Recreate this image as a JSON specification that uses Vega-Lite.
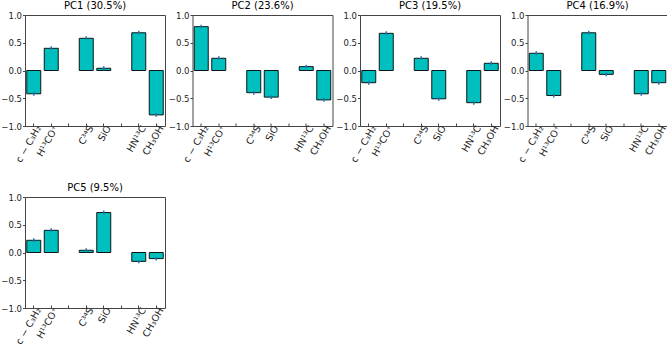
{
  "$schema": "https://vega.github.io/schema/vega-lite/v6.json",
  "padding": {"left": 0, "top": 0, "right": 0, "bottom": 2},
  "config": {
    "font": "DejaVu Sans",
    "view": {"stroke": "#444444", "strokeWidth": 1},
    "axis": {"grid": false, "domain": false, "labelFont": "DejaVu Sans", "labelFontSize": 8.5, "labelColor": "#222222", "tickColor": "#444444"}
  },
  "data": {"values": [
    {"pc": "PC1 (30.5%)", "mol": "c − C₃H₂", "v": -0.42, "lo": -0.455, "hi": -0.385},
    {"pc": "PC1 (30.5%)", "mol": "H¹³CO⁺", "v": 0.40, "lo": 0.365, "hi": 0.435},
    {"pc": "PC1 (30.5%)", "mol": "C³⁴S", "v": 0.58, "lo": 0.545, "hi": 0.615},
    {"pc": "PC1 (30.5%)", "mol": "SiO", "v": 0.04, "lo": 0.005, "hi": 0.075},
    {"pc": "PC1 (30.5%)", "mol": "HN¹³C", "v": 0.68, "lo": 0.645, "hi": 0.715},
    {"pc": "PC1 (30.5%)", "mol": "CH₃OH", "v": -0.80, "lo": -0.835, "hi": -0.765},
    {"pc": "PC2 (23.6%)", "mol": "c − C₃H₂", "v": 0.79, "lo": 0.755, "hi": 0.825},
    {"pc": "PC2 (23.6%)", "mol": "H¹³CO⁺", "v": 0.22, "lo": 0.185, "hi": 0.255},
    {"pc": "PC2 (23.6%)", "mol": "C³⁴S", "v": -0.40, "lo": -0.435, "hi": -0.365},
    {"pc": "PC2 (23.6%)", "mol": "SiO", "v": -0.48, "lo": -0.515, "hi": -0.445},
    {"pc": "PC2 (23.6%)", "mol": "HN¹³C", "v": 0.07, "lo": 0.035, "hi": 0.105},
    {"pc": "PC2 (23.6%)", "mol": "CH₃OH", "v": -0.53, "lo": -0.565, "hi": -0.495},
    {"pc": "PC3 (19.5%)", "mol": "c − C₃H₂", "v": -0.22, "lo": -0.255, "hi": -0.185},
    {"pc": "PC3 (19.5%)", "mol": "H¹³CO⁺", "v": 0.67, "lo": 0.635, "hi": 0.705},
    {"pc": "PC3 (19.5%)", "mol": "C³⁴S", "v": 0.22, "lo": 0.185, "hi": 0.255},
    {"pc": "PC3 (19.5%)", "mol": "SiO", "v": -0.51, "lo": -0.545, "hi": -0.475},
    {"pc": "PC3 (19.5%)", "mol": "HN¹³C", "v": -0.58, "lo": -0.615, "hi": -0.545},
    {"pc": "PC3 (19.5%)", "mol": "CH₃OH", "v": 0.13, "lo": 0.095, "hi": 0.165},
    {"pc": "PC4 (16.9%)", "mol": "c − C₃H₂", "v": 0.31, "lo": 0.275, "hi": 0.345},
    {"pc": "PC4 (16.9%)", "mol": "H¹³CO⁺", "v": -0.45, "lo": -0.485, "hi": -0.415},
    {"pc": "PC4 (16.9%)", "mol": "C³⁴S", "v": 0.68, "lo": 0.645, "hi": 0.715},
    {"pc": "PC4 (16.9%)", "mol": "SiO", "v": -0.07, "lo": -0.105, "hi": -0.035},
    {"pc": "PC4 (16.9%)", "mol": "HN¹³C", "v": -0.42, "lo": -0.455, "hi": -0.385},
    {"pc": "PC4 (16.9%)", "mol": "CH₃OH", "v": -0.22, "lo": -0.255, "hi": -0.185},
    {"pc": "PC5 (9.5%)", "mol": "c − C₃H₂", "v": 0.22, "lo": 0.185, "hi": 0.255},
    {"pc": "PC5 (9.5%)", "mol": "H¹³CO⁺", "v": 0.40, "lo": 0.365, "hi": 0.435},
    {"pc": "PC5 (9.5%)", "mol": "C³⁴S", "v": 0.04, "lo": 0.005, "hi": 0.075},
    {"pc": "PC5 (9.5%)", "mol": "SiO", "v": 0.72, "lo": 0.685, "hi": 0.755},
    {"pc": "PC5 (9.5%)", "mol": "HN¹³C", "v": -0.16, "lo": -0.195, "hi": -0.125},
    {"pc": "PC5 (9.5%)", "mol": "CH₃OH", "v": -0.11, "lo": -0.145, "hi": -0.075}
  ]},
  "facet": {"field": "pc", "type": "nominal", "sort": null,
    "header": {"title": null, "labelFont": "DejaVu Sans", "labelFontSize": 10, "labelColor": "#000000", "labelPadding": 0}},
  "columns": 4,
  "spacing": {"column": 27.5, "row": 71},
  "bounds": "flush",
  "resolve": {"axis": {"x": "independent", "y": "independent"}},
  "spec": {
    "width": 140,
    "height": 111,
    "encoding": {
      "x": {"field": "mol", "type": "nominal", "title": null,
        "scale": {"domain": ["c − C₃H₂", "H¹³CO⁺", "g1", "C³⁴S", "SiO", "g2", "HN¹³C", "CH₃OH"], "paddingInner": 0.2, "paddingOuter": 0.1},
        "axis": {"labelAngle": 300, "labelAlign": "right", "labelBaseline": "middle", "labelOffset": 5, "labelPadding": 3, "tickSize": -3, "bandPosition": 0.5, "labelFontSize": 9.5, "labelOverlap": false, "labelBound": false,
          "labelExpr": "datum.label == 'g1' || datum.label == 'g2' ? '' : datum.label"}}
    },
    "layer": [
      {"mark": {"type": "bar", "fill": "#00bfbf", "stroke": "#000000", "strokeWidth": 0.9},
       "encoding": {"y": {"field": "v", "type": "quantitative", "title": null, "scale": {"domain": [-1, 1], "nice": false},
         "axis": {"values": [-1, -0.5, 0, 0.5, 1], "format": ".1f", "tickSize": 2.5, "labelPadding": 1, "labelOverlap": false, "labelFlush": false}}}},
      {"mark": {"type": "rule", "color": "#000000", "strokeWidth": 1},
       "encoding": {"y": {"datum": 0, "type": "quantitative", "title": null,
         "axis": {"values": [-1, -0.5, 0, 0.5, 1], "format": ".1f", "tickSize": 2.5, "labelPadding": 1, "labelOverlap": false, "labelFlush": false}}}},
      {"mark": {"type": "rule", "color": "#1f77b4", "strokeWidth": 1.5},
       "encoding": {"y": {"field": "lo", "type": "quantitative", "title": null,
         "axis": {"values": [-1, -0.5, 0, 0.5, 1], "format": ".1f", "tickSize": 2.5, "labelPadding": 1, "labelOverlap": false, "labelFlush": false}},
         "y2": {"field": "hi"}}}
    ]
  }
}
